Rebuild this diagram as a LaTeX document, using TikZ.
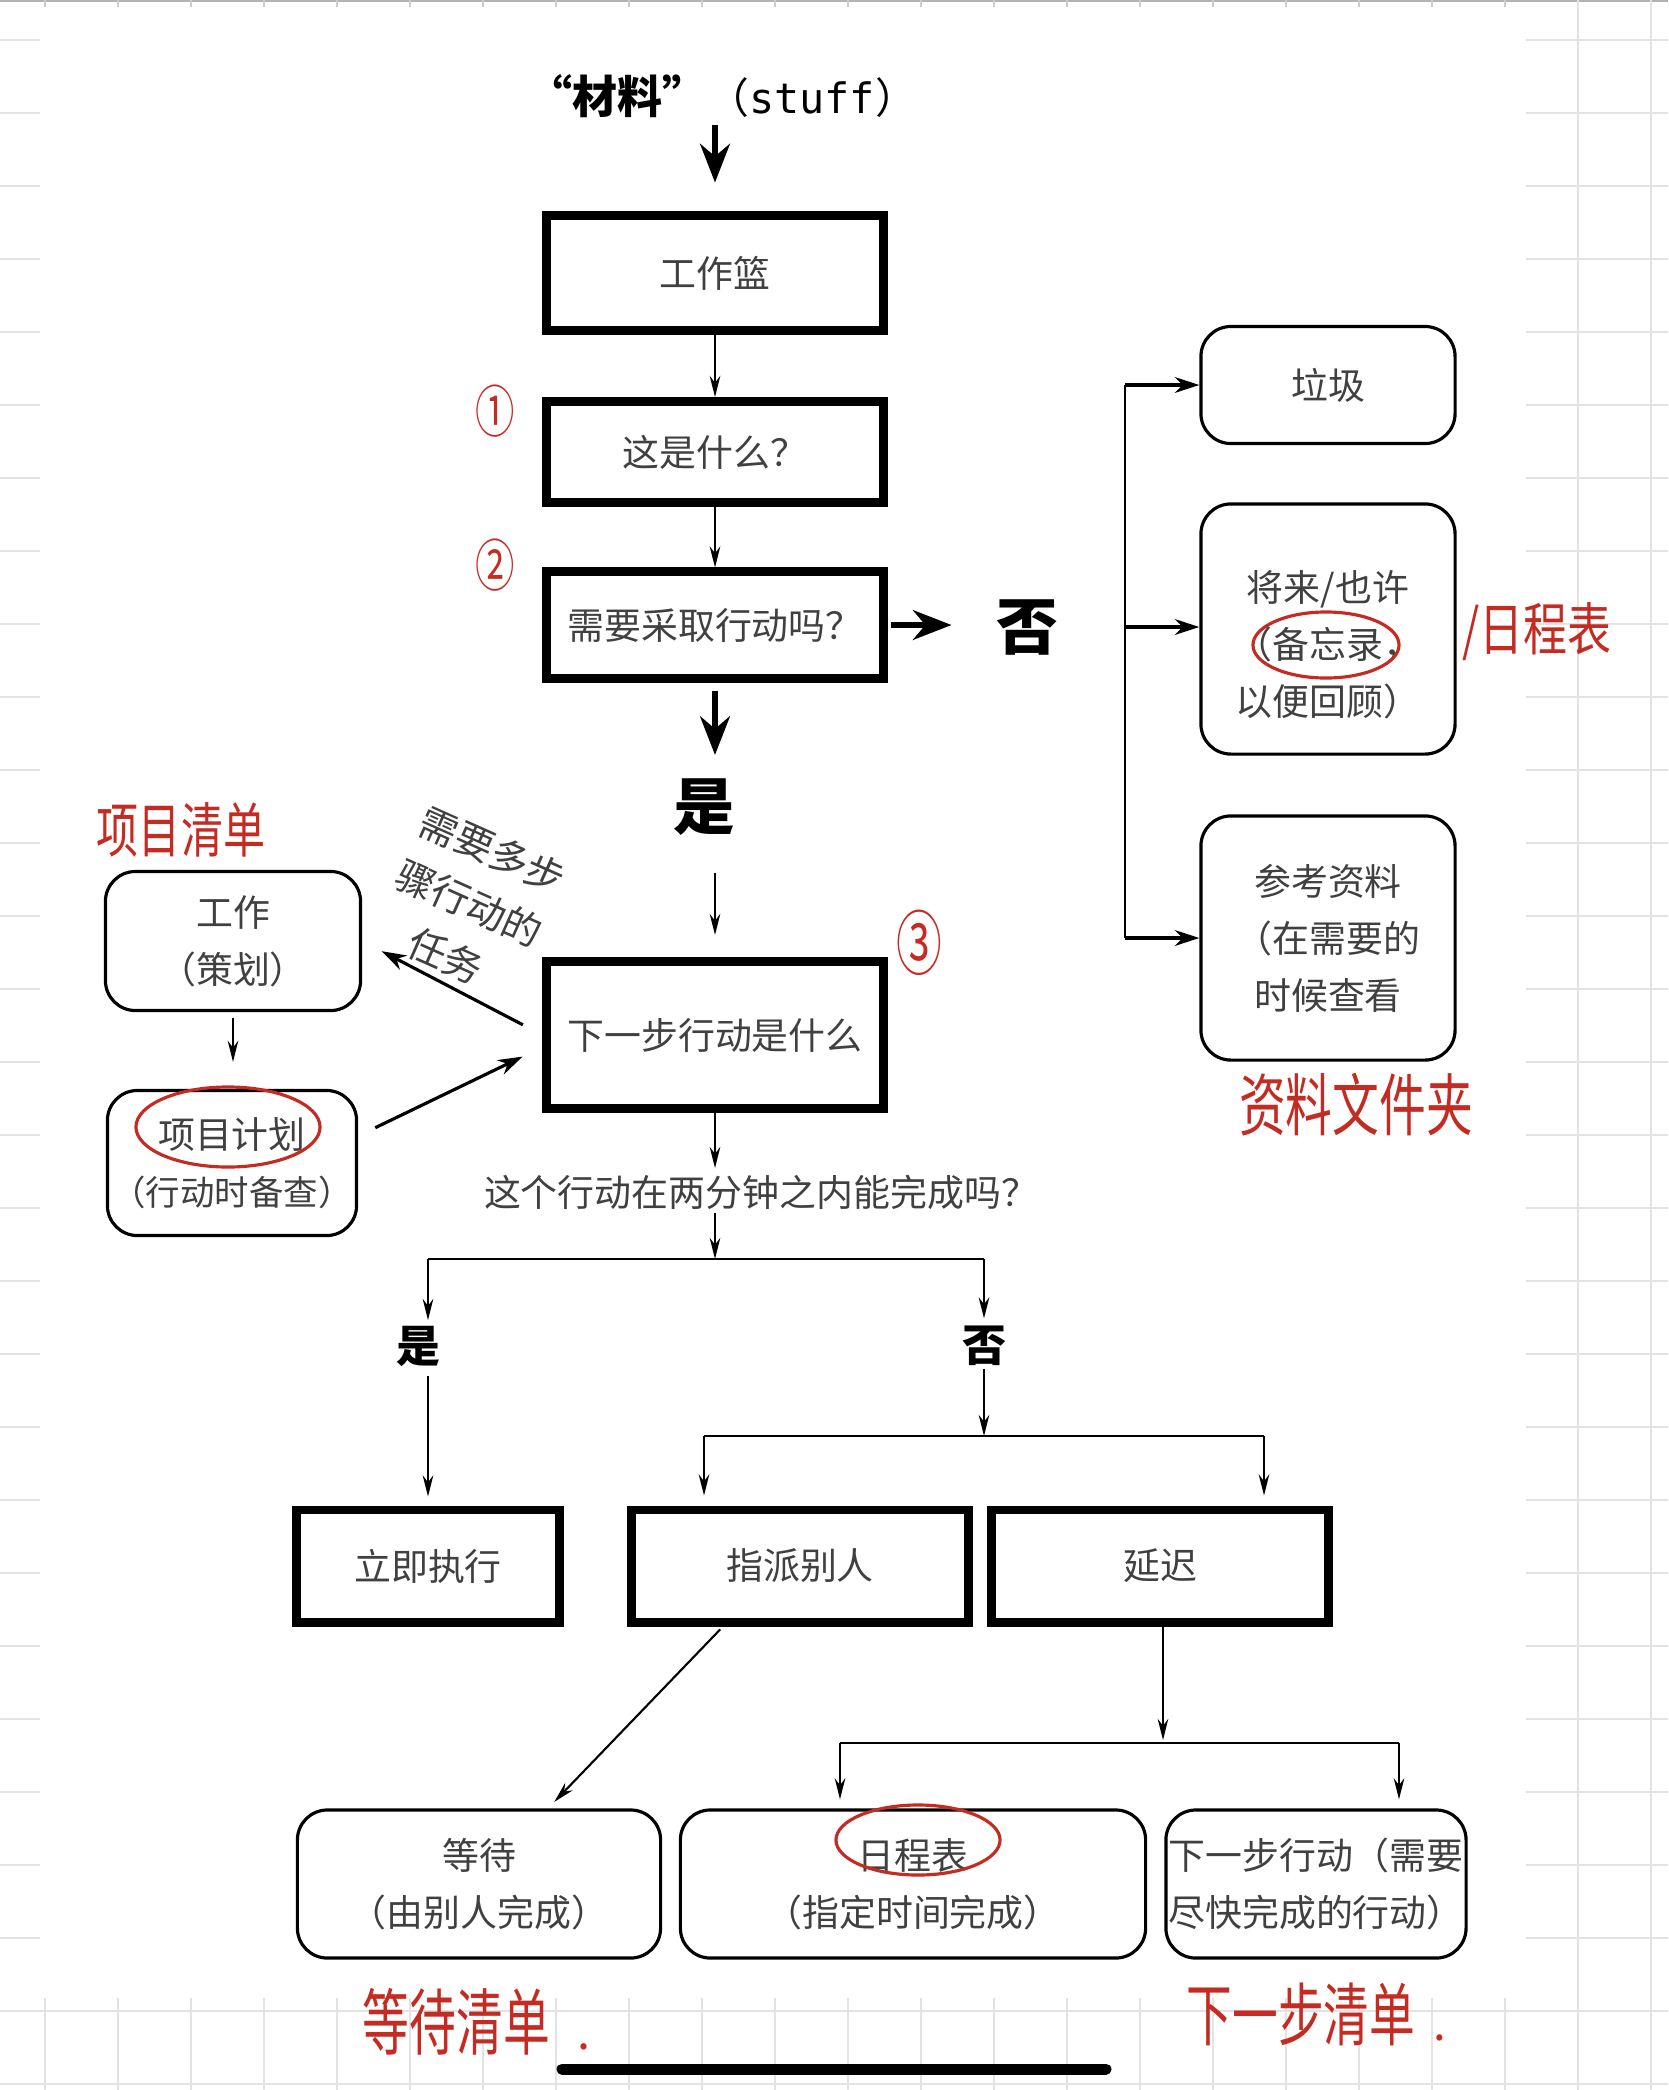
\documentclass[tikz,border=0pt]{standalone}
\usepackage{fontspec}
\setmainfont{Noto Sans CJK SC}
\newfontfamily\monofont{DejaVu Sans Mono}
\usetikzlibrary{arrows.meta}

\definecolor{textgray}{HTML}{404040}
\definecolor{gridgray}{HTML}{E3E3E3}
\definecolor{pen}{HTML}{C42B22}

\newcommand{\boxfont}{\fontsize{10.5pt}{16.2pt}\selectfont}

\begin{document}
\begin{tikzpicture}[x=0.01cm, y=-0.01cm,
	thickbox/.style={draw, line width=2.55pt, minimum width=3.36cm, inner sep=0pt, text=textgray, font=\boxfont},
	roundbox/.style={draw, line width=0.9pt, rounded corners=0.3cm, inner sep=0pt, text=textgray, font=\boxfont, align=center},
	arr/.style={line width=0.6pt, -{Stealth[length=6pt, width=3pt]}},
	midarr/.style={line width=0.9pt, -{Stealth[length=7pt, width=4.5pt]}},
	bigarr/.style={line width=1.5pt, -{Stealth[length=11pt, width=8.5pt]}},
	bigword/.style={font=\fontsize{17.5pt}{17.5pt}\selectfont\bfseries, inner sep=0pt},
	smallword/.style={font=\fontsize{12.5pt}{12.5pt}\selectfont\bfseries, inner sep=0pt},
	hand/.style={text=pen, inner sep=0pt},
	ring/.style={draw=pen, line width=0.9pt},
	gridline/.style={gridgray, line width=0.6pt}
]
\useasboundingbox (0,0) rectangle (1668,2090);

%% Karopapier
\begin{scope}
	\draw[gray!60, line width=0.4pt] (0,1) -- (1668,1);
	\foreach \k in {0,...,20}
		\draw[gray!40, line width=0.5pt] (45+73*\k,0) -- +(0,7);
	\foreach \k in {0,...,28} {
		\draw[gridline] (0,40+73*\k) -- (40,40+73*\k);
		\draw[gridline] (1526,40+73*\k) -- (1668,40+73*\k);
	}
	\draw[gridline] (1578,0) -- (1578,2090);
	\draw[gridline] (1651,0) -- (1651,2090);
	\foreach \y in {2011,2084}
		\draw[gridline] (0,\y) -- (1668,\y);
	\foreach \k in {0,...,22}
		\draw[gridline] (45+73*\k,1998) -- (45+73*\k,2090);
\end{scope}
%%%%%%%%%%%%%%%%

%% Hauptspalte
\node[inner sep=0pt, font=\fontsize{11.9pt}{11.9pt}\selectfont] (stuff) at (722,96) {{\fontsize{12.8pt}{12.8pt}\selectfont\bfseries “材料”}（{\monofont stuff}）};
\node[thickbox, minimum height=1.14cm] (basket) at (715,273) {工作篮};
\node[thickbox, minimum height=1.01cm] (what) at (715,452) {这是什么？};
\node[thickbox, minimum height=1.06cm] (act) at (715,625) {需要采取行动吗？};
\node[bigword] (no) at (1027,627) {否};
\node[bigword] (yes) at (704,807) {是};
\node[thickbox, minimum height=1.47cm] (next) at (715,1035) {下一步行动是什么};

\draw[bigarr, shorten <=0.07cm, shorten >=0.29cm] (stuff.south -| basket.north) -- (basket.north);
\draw[arr] (basket) -- (what);
\draw[arr] (what) -- (act);
\draw[bigarr, shorten <=0.03cm, shorten >=0.44cm] (act.east) -- (act.east -| no.west);
\draw[bigarr, shorten <=0.08cm, shorten >=0.23cm] (act.south) -- (act.south |- yes.north);
\draw[arr, shorten <=0.37cm, shorten >=0.22cm] (yes.south -| next.north) -- (next.north);

%% Nicht-Aktionen
\node[roundbox, minimum width=2.54cm, minimum height=1.17cm] (trash) at (1328,385) {垃圾};
\node[roundbox, minimum width=2.54cm, minimum height=2.5cm] (maybe) at (1328,629) {\rule{0pt}{0.62cm}将来/也许\\（备忘录，\\以便回顾）};
\node[roundbox, minimum width=2.54cm, minimum height=2.44cm] (ref) at (1328,938) {参考资料\\（在需要的\\时候查看};

\coordinate (fork) at (1125,627);
\draw[line width=0.6pt] (fork |- trash) -- (fork |- ref);
\draw[midarr] (fork |- trash) -- (trash);
\draw[midarr] (fork) -- (fork -| maybe.west);
\draw[midarr] (fork |- ref) -- (ref);

%% Projekte
\node[roundbox, minimum width=2.55cm, minimum height=1.39cm] (proj) at (233,941) {工作\\（策划）};
\node[roundbox, minimum width=2.49cm, minimum height=1.45cm] (plan) at (232,1163) {项目计划\\{\fontsize{9.8pt}{16pt}\selectfont（行动时备查）}};
\node[text=textgray, font=\fontsize{11pt}{16.5pt}\selectfont, align=center, rotate=-24, inner sep=0pt] (multi) at (469,903) {需要多步\\骤行动的\\任务};

\draw[midarr, shorten <=0.22cm, shorten >=0.22cm] (next.west) -- (proj.east);
\draw[arr, shorten <=0.06cm, shorten >=0.27cm] (proj.south) -- (proj.south |- plan.north);
\draw[midarr, shorten <=0.19cm, shorten >=0.22cm] ([yshift=0.27cm]plan.east) -- ([yshift=-0.12cm]next.west);

%% Zwei-Minuten-Regel
\node[inner sep=0pt, text=textgray, font=\boxfont] (quick) at (761,1192) {这个行动在两分钟之内能完成吗？};
\node[smallword] (yes2) at (418,1346) {是};
\node[smallword] (no2) at (984,1346) {否};
\node[thickbox, minimum width=2.62cm, minimum height=1.12cm] (now) at (428,1566) {立即执行};
\node[thickbox, minimum height=1.12cm] (delegate) at (800,1566) {指派别人};
\node[thickbox, minimum height=1.12cm] (defer) at (1160,1566) {延迟};

\coordinate (split) at (715,1259);
\coordinate (split2) at (984,1436);
\coordinate (delIn) at (704,1436);
\coordinate (defIn) at (1264,1436);
\draw[arr, shorten >=0.06cm] (next.south) -- (next.south |- quick.north);
\draw[arr, shorten <=0.03cm] (quick.south -| split) -- (split);
\draw[line width=0.6pt] (split -| now) -- (split -| no2);
\draw[arr, shorten >=0.05cm] (split -| now) -- (yes2.north -| now);
\draw[arr, shorten <=0.09cm, shorten >=0.09cm] (yes2.south -| now) -- (now);
\draw[arr, shorten >=0.07cm] (split -| no2) -- (no2);
\draw[arr, shorten <=0.02cm] (no2) -- (split2);
\draw[line width=0.6pt] (delIn) -- (defIn);
\draw[arr, shorten >=0.1cm] (delIn) -- (delIn |- delegate.north);
\draw[arr, shorten >=0.1cm] (defIn) -- (defIn |- defer.north);

%% Listen
\node[roundbox, minimum width=3.63cm, minimum height=1.48cm] (wait) at (479,1884) {等待\\（由别人完成）};
\node[roundbox, minimum width=4.65cm, minimum height=1.48cm] (cal) at (913,1884) {日程表\\（指定时间完成）};
\node[roundbox, minimum width=3.0cm, minimum height=1.48cm] (nextact) at (1316,1884) {下一步行动（需要\\尽快完成的行动）};

\coordinate (split3) at (1163,1743);
\coordinate (calIn) at (840,1743);
\coordinate (nextIn) at (1399,1743);
\draw[arr, shorten <=0.04cm, shorten >=0.09cm] ([xshift=-0.77cm]delegate.south) -- ([xshift=0.69cm]wait.north);
\draw[arr, shorten >=0.03cm] (defer.south -| split3) -- (split3);
\draw[line width=0.6pt] (calIn) -- (nextIn);
\draw[arr, shorten >=0.09cm] (calIn) -- (calIn |- cal.north);
\draw[arr, shorten >=0.09cm] (nextIn) -- (nextIn |- nextact.north);

%% Handschrift
\node[hand, font=\fontsize{16pt}{16pt}\selectfont] (mark1) at (495,411) {\scalebox{0.7}[1]{①}};
\node[hand, font=\fontsize{16pt}{16pt}\selectfont] (mark2) at (495,565) {\scalebox{0.7}[1]{②}};
\node[hand, font=\fontsize{20pt}{20pt}\selectfont] (mark3) at (919,943) {\scalebox{0.65}[1]{③}};
\node[hand, font=\fontsize{13pt}{13pt}\selectfont] (projlist) at (181,830) {\scalebox{0.92}[1.3]{项目清单}};
\node[hand, font=\fontsize{12.5pt}{12.5pt}\selectfont] (callist) at (1537,632) {\scalebox{1}[1.3]{/日程表}};
\node[hand, font=\fontsize{13.3pt}{13.3pt}\selectfont] (filelist) at (1356,1105) {\scalebox{1}[1.45]{资料文件夹}};
\node[hand, font=\fontsize{13.3pt}{13.3pt}\selectfont, anchor=west] (waitlist) at (362,2022) {\scalebox{1}[1.55]{等待清单}\hspace{0.6em}.};
\node[hand, font=\fontsize{13pt}{13pt}\selectfont, anchor=west] (nextlist) at (1186,2014) {\scalebox{1}[1.5]{下一步清单}\hspace{0.4em}.};

\draw[ring] (1326,645) ellipse [x radius=0.73cm, y radius=0.33cm];
\draw[ring] (228,1127) ellipse [x radius=0.92cm, y radius=0.40cm];
\draw[ring] (918,1840) ellipse [x radius=0.82cm, y radius=0.35cm];

%% Home-Balken
\draw[line width=0.11cm, line cap=round] (562,2069) -- (1106,2069);

\end{tikzpicture}
\end{document}
